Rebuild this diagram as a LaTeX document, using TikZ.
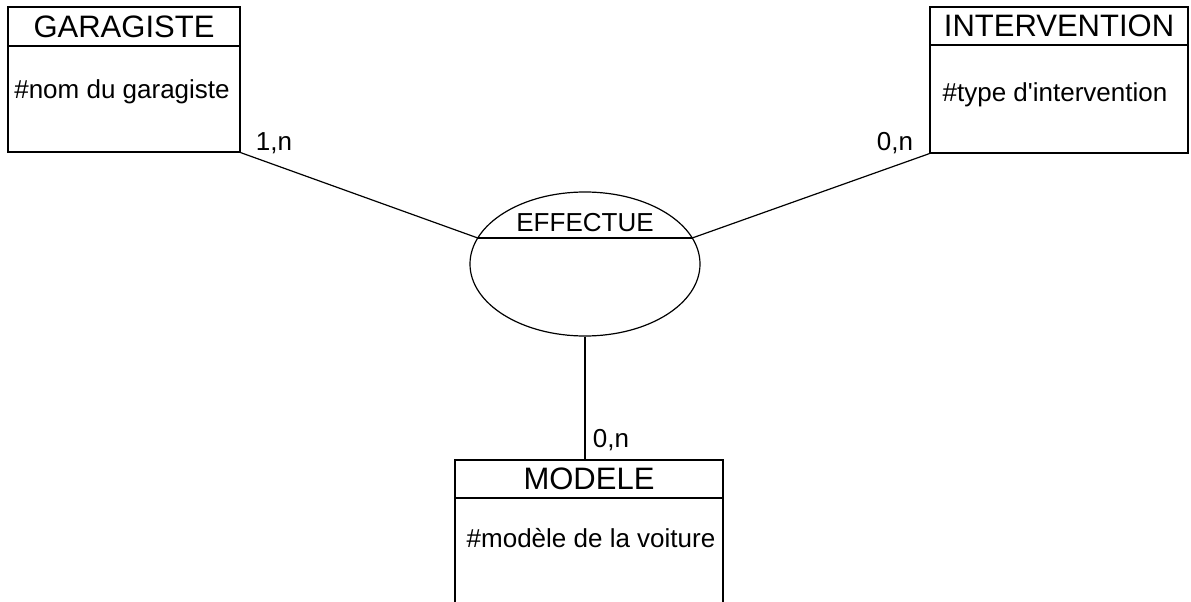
\documentclass[tikz,border=0pt]{standalone}
\usepackage{fontspec}
\setmainfont{Liberation Sans}
\usetikzlibrary{shapes.geometric}

\begin{document}
\begin{tikzpicture}[x=1pt, y=-1pt, line width=1.2pt,
		titre/.style={draw, rectangle, inner sep=0pt, font=\fontsize{31}{36}\selectfont},
		cadre/.style={draw, rectangle, inner sep=0pt},
		texte/.style={inner sep=0pt, font=\fontsize{26}{30}\selectfont}]
		\clip (0,0) rectangle (1191,602);
		
		% entites
		\node[titre, minimum width=232pt, minimum height=39pt] (gar) at (124,26.5) {GARAGISTE};
		\node[cadre, minimum width=232pt, minimum height=106pt] (gar_c) at (124,99) {};
		\node[texte] (gar_a) at (122,92) {\#nom du garagiste};
		
		\node[titre, minimum width=258pt, minimum height=38pt] (int) at (1059,26) {INTERVENTION};
		\node[cadre, minimum width=258pt, minimum height=108pt] (int_c) at (1059,99) {};
		\node[texte] (int_a) at (1055,95) {\#type d\textquotesingle intervention};
		
		\node[titre, minimum width=268pt, minimum height=38pt] (mod) at (589,479) {MODELE};
		\node[cadre, minimum width=268pt, minimum height=142pt] (mod_c) at (589,569) {};
		\node[texte] (mod_a) at (591,538) {\#modèle de la voiture};
		
		% association
		\node[draw, ellipse, inner sep=0pt, minimum width=230pt, minimum height=144pt] (eff) at (585,264) {};
		\path (eff.center) ++(-107.2,-26) coordinate (eff_g);
		\path (eff.center) ++(107.2,-26) coordinate (eff_d);
		\draw (eff_g) -- (eff_d);
		\node[texte] (eff_t) at (585,223) {EFFECTUE};
		
		\draw (gar_c.south east) -- (eff_g);
		\draw (int_c.south west) -- (eff_d);
		\draw (eff.south) -- (eff.south |- mod.north);
		
		% cardinalites
		\foreach \n\s\x\y in {1/{1,n}/274/143, 2/{0,n}/895/143, 3/{0,n}/611/440}
		\node[texte] (card\n) at (\x,\y) {\s};
		
	\end{tikzpicture}
\end{document}
